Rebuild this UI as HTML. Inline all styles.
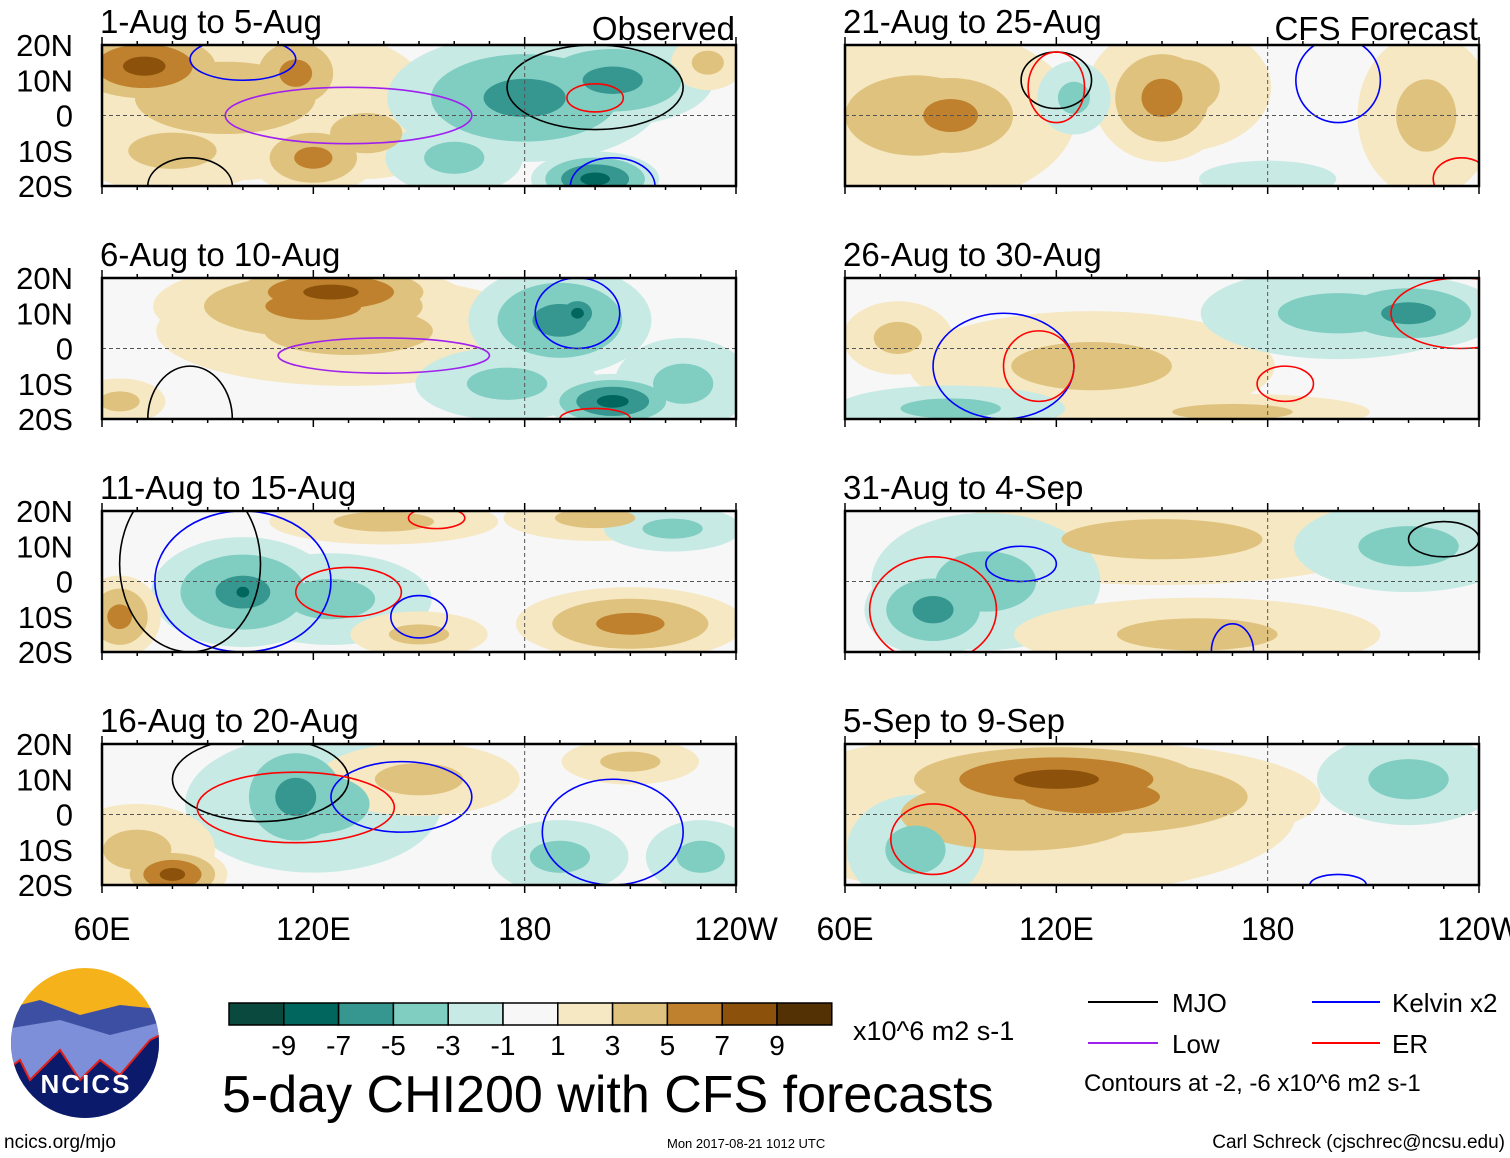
<!DOCTYPE html>
<html><head><meta charset="utf-8">
<style>
html,body{margin:0;padding:0;background:#fff;}
svg{display:block;font-family:"Liberation Sans",Arial,sans-serif;}
</style></head>
<body>
<svg id="chart" width="1510" height="1158" viewBox="0 0 1510 1158" xmlns="http://www.w3.org/2000/svg">
<g id="panels"></g>
<g id="legend"></g>
</svg>
<script>
// ---- data ----
const panelTitles = ["1-Aug to 5-Aug","6-Aug to 10-Aug","11-Aug to 15-Aug","16-Aug to 20-Aug","21-Aug to 25-Aug","26-Aug to 30-Aug","31-Aug to 4-Sep","5-Sep to 9-Sep"];
const latTicks = ["20N","10N","0","10S","20S"];
const latValues = [20,10,0,-10,-20];
const lonTicks = ["60E","120E","180","120W"];
const lonValues = [60,120,180,240];
const levelLabels = ["-9","-7","-5","-3","-1","1","3","5","7","9"];
// anomaly blobs per panel: [lon, lat, value, lonRadius, latRadius]
const blobs0 = [[95,5,3,45,18],[72,14,7,20,9],[115,12,5,12,10],[120,-12,5,14,8],[80,-10,3,22,9],[135,-5,3,18,10],[180,5,-5,30,14],[205,10,-5,22,10],[200,-18,-7,14,6],[160,-12,-3,15,8],[232,15,3,8,6]];
const blobs1 = [[130,5,3,42,12],[120,12,5,35,10],[125,16,7,26,7],[65,-15,3,10,5],[190,8,-5,20,12],[195,10,-7,6,5],[205,-15,-7,15,6],[175,-10,-3,20,8],[225,-10,-3,15,10]];
const blobs2 = [[125,-5,-3,22,10],[100,-3,-5,20,12],[100,-3,-7,6,5],[65,-10,5,9,9],[140,17,3,25,5],[200,18,3,20,5],[210,-12,5,25,8],[222,15,-3,15,5],[150,-15,3,15,5]];
const blobs3 = [[120,3,-3,28,15],[115,5,-5,15,14],[80,-17,7,12,6],[70,-10,3,17,10],[150,10,3,22,8],[190,-12,-3,15,8],[230,-12,-3,12,8],[210,15,3,15,5]];
const blobs4 = [[80,0,3,35,20],[90,0,5,20,12],[155,8,3,20,14],[150,5,5,15,14],[125,5,-3,8,8],[225,0,3,15,18],[180,-18,-1,15,4]];
const blobs5 = [[130,-5,3,40,12],[75,3,3,12,8],[200,10,-3,30,10],[220,10,-5,20,8],[90,-17,-3,25,5],[170,-18,3,30,4]];
const blobs6 = [[150,12,3,50,10],[220,10,-3,25,10],[100,0,-3,25,15],[85,-8,-5,15,10],[160,-15,3,40,8]];
const blobs7 = [[110,0,3,60,18],[130,5,5,50,12],[120,10,7,40,9],[220,10,-3,20,10],[80,-10,-3,15,12]];
const allBlobs = [blobs0,blobs1,blobs2,blobs3,blobs4,blobs5,blobs6,blobs7];
// contour ellipses per panel: [lon, lat, lonRadius, latRadius, type]
const contours0 = [[200,8,25,12,"mjo"],[130,0,35,8,"low"],[200,5,8,4,"er"],[100,16,15,6,"kelvin"],[85,-20,12,8,"mjo"],[205,-20,12,8,"kelvin"]];
const contours1 = [[140,-2,30,5,"low"],[195,10,12,10,"kelvin"],[85,-20,12,15,"mjo"],[200,-20,10,3,"er"]];
const contours2 = [[100,0,25,20,"kelvin"],[85,5,20,25,"mjo"],[130,-3,15,7,"er"],[150,-10,8,6,"kelvin"],[155,18,8,3,"er"]];
const contours3 = [[105,10,25,12,"mjo"],[145,5,20,10,"kelvin"],[115,2,28,10,"er"],[205,-5,20,15,"kelvin"]];
const contours4 = [[120,10,10,8,"mjo"],[120,8,8,10,"er"],[200,10,12,12,"kelvin"],[235,-18,8,6,"er"]];
const contours5 = [[235,10,20,10,"er"],[105,-5,20,15,"kelvin"],[115,-5,10,10,"er"],[185,-10,8,5,"er"]];
const contours6 = [[230,12,10,5,"mjo"],[85,-8,18,15,"er"],[110,5,10,5,"kelvin"],[170,-20,6,8,"kelvin"]];
const contours7 = [[85,-7,12,10,"er"],[200,-20,8,3,"kelvin"]];
const allContours = [contours0,contours1,contours2,contours3,contours4,contours5,contours6,contours7];

const posColors = {1:"#f6e8c3",3:"#dfc27d",5:"#bf812d",7:"#8c510a",9:"#543005"};
const negColors = {1:"#c7eae5",3:"#80cdc1",5:"#35978f",7:"#01665e",9:"#003c30"};
const barColors = ["#0a4a3e","#01665e","#35978f","#80cdc1","#c7eae5","#f7f7f7","#f6e8c3","#dfc27d","#bf812d","#8c510a","#543005"];
const lineColors = {mjo:"#000000",low:"#a020f0",kelvin:"#0000ff",er:"#ff0000"};
const spread = 1.3;

const NS = "http://www.w3.org/2000/svg";
function mk(tag, attrs, parent){const e=document.createElementNS(NS,tag);for(const k in attrs)e.setAttribute(k,attrs[k]);parent.appendChild(e);return e;}
const colX = [102, 845], W = 634, rowY = [45,278,511,744], H = 141;
const panelsG = document.getElementById('panels');

for(let p=0;p<8;p++){
  const x0 = colX[p<4?0:1], y0 = rowY[p%4];
  const xs = lon => x0 + (lon-60)/180*W;
  const ys = lat => y0 + (20-lat)/40*H;
  const g = mk('g',{},panelsG);
  
  
  const cid='clip'+p;
  const cp=mk('clipPath',{id:cid},g); mk('rect',{x:x0,y:y0,width:W,height:H},cp);
  const bg=mk('rect',{x:x0,y:y0,width:W,height:H,fill:"#f7f7f7"},g);
  
  
  const fg=mk('g',{'clip-path':'url(#'+cid+')'},g);
  for(const lvl of [1,3,5,7,9]){
    for(const b of allBlobs[p]){
      const [lon,lat,v,rx,ry]=b, a=Math.abs(v);
      if(a<lvl) continue;
      const f=spread*Math.pow((a+1-lvl)/a,0.75);
      const e=mk('ellipse',{cx:xs(lon),cy:ys(lat),rx:rx*f/180*W,ry:ry*f/40*H,fill:(v>0?posColors:negColors)[lvl]},fg);
      
      
    }
  }
  for(const c of allContours[p]){
    const [lon,lat,rx,ry,t]=c;
    const e=mk('ellipse',{cx:xs(lon),cy:ys(lat),rx:rx/180*W,ry:ry/40*H,fill:"none",stroke:lineColors[t],'stroke-width':1.6},fg);
    
    
  }
  mk('line',{x1:x0,x2:x0+W,y1:ys(0),y2:ys(0),stroke:"#555",'stroke-dasharray':"4,3",'stroke-width':1},fg);
  mk('line',{x1:xs(180),x2:xs(180),y1:y0,y2:y0+H,stroke:"#555",'stroke-dasharray':"4,3",'stroke-width':1},fg);
  const fr=mk('rect',{x:x0,y:y0,width:W,height:H,fill:"none",stroke:"#000",'stroke-width':2.5},g);
  
  
  for(let lon=60;lon<=240;lon+=10){
    const L=(lon%60===0)?8:4;
    mk('line',{x1:xs(lon),x2:xs(lon),y1:y0-L,y2:y0,stroke:"#000",'stroke-width':1.5},g);
    mk('line',{x1:xs(lon),x2:xs(lon),y1:y0+H,y2:y0+H+L,stroke:"#000",'stroke-width':1.5},g);
  }
  const t=mk('text',{x:x0-2,y:y0-12,'font-size':33,fill:"#000"},g);
  t.textContent=panelTitles[p];
  
  
  if(p===0||p===4){
    const r=mk('text',{x:x0+W-1,y:y0-5,'font-size':33,'text-anchor':'end'},g);
    r.textContent = p===0?"Observed":"CFS Forecast";
    
    
  }
  if(p<4){
    latValues.forEach((lv,i)=>{
      const yl=mk('text',{x:73,y:ys(lv)+11,'font-size':31,'text-anchor':'end'},g);
      yl.textContent=latTicks[i];
      
      
    });
  }
  if(p%4===3){
    lonValues.forEach((lv,i)=>{
      const xl=mk('text',{x:xs(lv),y:940,'font-size':32,'text-anchor':'middle'},g);
      xl.textContent=lonTicks[i];
      
      
    });
  }
}

const lg=document.getElementById('legend');
const bx0=229,bw=54.8;
barColors.forEach((c,i)=>{
  const r=mk('rect',{x:bx0+i*bw,y:1003,width:bw,height:22,fill:c,stroke:"#000",'stroke-width':1.5},lg);
  
  
});
levelLabels.forEach((s,i)=>{
  const t=mk('text',{x:bx0+(i+1)*bw,y:1055,'font-size':28,'text-anchor':'middle'},lg);
  t.textContent=s;
  
  
});
</script>
<div style="position:absolute;left:0;top:0;width:1510px;height:1158px;pointer-events:none;">
<svg width="1510" height="1158" style="position:absolute;left:0;top:0" xmlns="http://www.w3.org/2000/svg">
  <g>
    <clipPath id="logoClip"><ellipse cx="85" cy="1043" rx="74" ry="75"/></clipPath>
    <g clip-path="url(#logoClip)">
      <rect x="0" y="960" width="170" height="170" fill="#f5b21a"/>
      <polygon points="0,1010 40,1000 80,1015 120,1005 170,1010 170,1130 0,1130" fill="#3d4fa3"/>
      <polygon points="0,1030 60,1020 110,1035 170,1020 170,1130 0,1130" fill="#7d8fd8"/>
      <polygon points="0,1075 20,1060 30,1080 40,1070 60,1050 80,1080 100,1060 120,1075 150,1040 170,1030 170,1130 0,1130" fill="#0b1a6b" stroke="#e0201b" stroke-width="2"/>
    </g>
    <text x="86" y="1093" font-size="26" font-weight="bold" fill="#fff" text-anchor="middle" font-family="Liberation Sans, sans-serif" letter-spacing="2">NCICS</text>
  </g>
  <text x="853" y="1040" font-size="27" font-family="Liberation Sans, sans-serif">x10^6 m2 s-1</text>
  <text x="222" y="1112" font-size="52" font-family="Liberation Sans, sans-serif">5-day CHI200 with CFS forecasts</text>
  <text x="4" y="1148" font-size="19" font-family="Liberation Sans, sans-serif">ncics.org/mjo</text>
  <text x="667" y="1148" font-size="13" font-family="Liberation Sans, sans-serif">Mon 2017-08-21 1012 UTC</text>
  <text x="1505" y="1148" font-size="19" text-anchor="end" font-family="Liberation Sans, sans-serif">Carl Schreck (cjschrec@ncsu.edu)</text>
  <g font-family="Liberation Sans, sans-serif" font-size="26">
    <line x1="1088" x2="1158" y1="1002" y2="1002" stroke="#000" stroke-width="2"/>
    <text x="1172" y="1012">MJO</text>
    <line x1="1088" x2="1158" y1="1043" y2="1043" stroke="#a020f0" stroke-width="2"/>
    <text x="1172" y="1053">Low</text>
    <line x1="1312" x2="1380" y1="1002" y2="1002" stroke="#0000ff" stroke-width="2"/>
    <text x="1392" y="1012">Kelvin x2</text>
    <line x1="1312" x2="1380" y1="1043" y2="1043" stroke="#ff0000" stroke-width="2"/>
    <text x="1392" y="1053">ER</text>
    <text x="1084" y="1091" font-size="24">Contours at -2, -6 x10^6 m2 s-1</text>
  </g>
</svg>
</div>
</body></html>
